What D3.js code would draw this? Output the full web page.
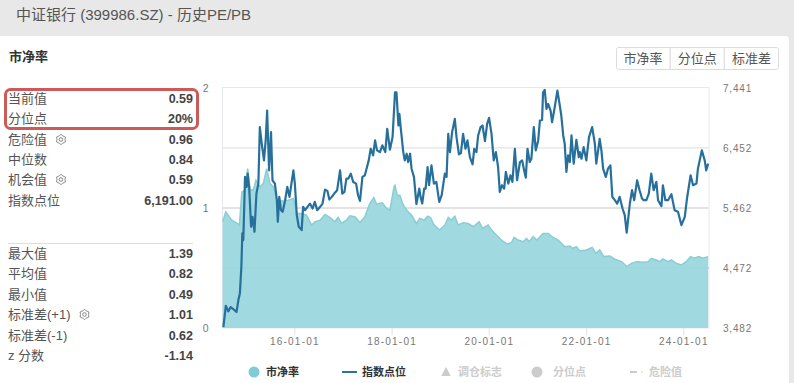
<!DOCTYPE html>
<html><head><meta charset="utf-8">
<script src="https://cdn.jsdelivr.net/npm/d3@7"></script>
<style>
html,body{margin:0;padding:0;background:#e8e8e8}
svg{display:block}
text{font-family:"Liberation Sans","Noto Sans CJK SC",sans-serif}
</style></head><body><svg id="c" width="794" height="383"></svg>
<script>
const title = "中证银行 (399986.SZ) - 历史PE/PB";
const panelTitle = "市净率";
const buttons = ["市净率","分位点","标准差"];
const statsTop = [["当前值","0.59",0],["分位点","20%",0],["危险值","0.96",1],["中位数","0.84",0],["机会值","0.59",1],["指数点位","6,191.00",0]];
const statsBottom = [["最大值","1.39",0],["平均值","0.82",0],["最小值","0.49",0],["标准差(+1)","1.01",1],["标准差(-1)","0.62",0],["z 分数","-1.14",0]];
const xTickYears = [2016,2018,2020,2022,2024];
const xTickLabels = ["16-01-01","18-01-01","20-01-01","22-01-01","24-01-01"];
const leftTicks = [0,1,2];
const rightTicks = [3482,4472,5462,6452,7441];

const indexYears = [2014.54,2014.59,2014.64,2014.69,2014.76,2014.81,2014.85,2014.88,2014.91,2014.93,2014.95,2014.985,2015.02,2015.04,2015.07,2015.11,2015.14,2015.18,2015.22,2015.26,2015.29,2015.33,2015.375,2015.41,2015.44,2015.48,2015.52,2015.55,2015.60,2015.64,2015.66,2015.69,2015.725,2015.76,2015.81,2015.855,2015.90,2015.93,2015.98,2016.01,2016.05,2016.09,2016.15,2016.18,2016.22,2016.27,2016.32,2016.375,2016.42,2016.47,2016.53,2016.58,2016.63,2016.68,2016.72,2016.77,2016.82,2016.88,2016.94,2016.985,2017.03,2017.07,2017.11,2017.16,2017.21,2017.27,2017.31,2017.35,2017.40,2017.45,2017.485,2017.53,2017.57,2017.62,2017.66,2017.70,2017.76,2017.81,2017.87,2017.91,2017.965,2018.02,2018.07,2018.10,2018.14,2018.16,2018.19,2018.24,2018.27,2018.31,2018.34,2018.38,2018.41,2018.46,2018.51,2018.57,2018.595,2018.63,2018.67,2018.70,2018.74,2018.77,2018.82,2018.87,2018.92,2018.98,2019.03,2019.095,2019.13,2019.165,2019.20,2019.245,2019.30,2019.335,2019.385,2019.425,2019.47,2019.52,2019.56,2019.61,2019.665,2019.70,2019.745,2019.78,2019.83,2019.87,2019.92,2019.965,2020.005,2020.055,2020.10,2020.145,2020.19,2020.225,2020.27,2020.315,2020.35,2020.40,2020.445,2020.485,2020.535,2020.58,2020.64,2020.685,2020.725,2020.76,2020.795,2020.84,2020.875,2020.925,2020.965,2021.015,2021.05,2021.095,2021.115,2021.15,2021.185,2021.22,2021.27,2021.30,2021.355,2021.41,2021.46,2021.49,2021.53,2021.56,2021.595,2021.63,2021.665,2021.70,2021.745,2021.80,2021.85,2021.87,2021.905,2021.95,2022.005,2022.06,2022.125,2022.18,2022.21,2022.28,2022.315,2022.35,2022.405,2022.45,2022.50,2022.54,2022.59,2022.64,2022.69,2022.75,2022.795,2022.835,2022.90,2022.945,2022.99,2023.05,2023.10,2023.15,2023.185,2023.24,2023.29,2023.34,2023.39,2023.445,2023.48,2023.55,2023.58,2023.63,2023.685,2023.755,2023.82,2023.89,2023.96,2024.03,2024.075,2024.15,2024.20,2024.27,2024.30,2024.38,2024.44,2024.47,2024.51];
const indexValues = [3498,3849,3756,3827,3783,3745,3947,4057,4495,5043,4933,5974,5809,6028,5809,5152,5316,5070,5700,5864,6795,6521,6247,6576,7069,6083,6713,5919,5864,5590,5234,5645,5426,5399,5590,5809,5645,5809,6083,5864,5344,5152,5097,5481,5426,5481,5535,5453,5563,5426,5481,5535,5765,5744,5601,5645,5700,5755,6083,5700,5727,5946,5946,6028,5891,5864,5672,5579,5974,6001,6110,6247,6439,6330,6576,6412,6384,6494,6384,6768,6423,6631,7370,7370,6822,7014,6768,6384,6247,6357,6220,6357,6110,5974,5525,5782,5645,5535,5782,5782,6138,5837,6165,5864,5891,5563,5672,6028,5974,6685,6384,6713,6932,6631,6346,6368,6685,6439,6576,6302,6182,6439,6384,6658,6795,6822,6565,6850,6948,6685,6247,6384,6138,5727,5837,5782,6056,5864,6001,5891,6439,5919,6220,6247,6083,5963,6439,6220,6275,6795,6412,6576,6905,6915,7370,7408,7096,7178,7069,6877,7124,7397,7151,6987,6658,6521,6056,6330,6220,6658,6193,6587,6302,6384,6275,6466,6247,6631,6795,6521,6193,6603,6412,6110,5974,6110,6165,5645,5590,5535,5645,5453,5344,5054,5535,5755,5590,5919,5755,5618,5590,5590,5700,6028,5755,5891,5590,5492,5837,5590,5590,5689,5426,5399,5180,5316,5618,6001,5837,5864,6110,6412,6247,6083,6193];

const pbYears = [2014.525,2014.59,2014.64,2014.71,2014.81,2014.87,2014.92,2014.985,2015.04,2015.09,2015.16,2015.21,2015.29,2015.36,2015.43,2015.50,2015.57,2015.64,2015.77,2015.875,2015.98,2016.05,2016.15,2016.25,2016.355,2016.42,2016.53,2016.63,2016.73,2016.835,2016.90,2016.97,2017.07,2017.14,2017.245,2017.35,2017.45,2017.55,2017.635,2017.69,2017.81,2017.895,2017.965,2018.05,2018.07,2018.115,2018.17,2018.24,2018.34,2018.41,2018.51,2018.58,2018.67,2018.74,2018.80,2018.875,2018.99,2019.095,2019.165,2019.23,2019.30,2019.37,2019.47,2019.575,2019.68,2019.80,2019.87,2019.985,2020.055,2020.155,2020.26,2020.375,2020.465,2020.52,2020.60,2020.705,2020.775,2020.83,2020.91,2020.99,2021.115,2021.22,2021.32,2021.425,2021.56,2021.665,2021.72,2021.80,2021.87,2022.005,2022.125,2022.20,2022.28,2022.365,2022.49,2022.59,2022.73,2022.84,2022.93,2023.035,2023.17,2023.275,2023.34,2023.445,2023.515,2023.58,2023.685,2023.755,2023.855,2023.96,2024.06,2024.15,2024.23,2024.315,2024.405,2024.51];
const pbValues = [.885,.968,.941,.899,.877,.858,1.134,1.148,1.328,1.148,1.154,1.231,1.176,1.203,1.328,1.203,1.176,1.065,1.059,1.065,1.079,.954,.954,.941,.858,.885,.899,.946,.921,.885,.921,.871,.899,.935,.927,.880,.927,1.037,1.087,1.032,1.043,.996,.982,1.176,1.19,1.107,1.107,1.024,.968,.941,.871,.913,.899,.932,.921,.858,.816,.858,.921,.899,.932,.858,.877,.871,.844,.885,.830,.858,.816,.775,.733,.700,.711,.755,.733,.719,.747,.719,.761,.733,.788,.788,.755,.733,.678,.683,.664,.678,.642,.650,.672,.622,.650,.595,.600,.573,.553,.512,.539,.553,.548,.553,.581,.567,.553,.575,.553,.567,.539,.526,.553,.595,.581,.595,.581,.595];

const legendItems = [
  {label:"市净率",kind:"circle",color:"#7fcbd6",text:"#333",cx:254,tx:266},
  {label:"指数点位",kind:"line",color:"#2f7397",text:"#333",cx:350,tx:362},
  {label:"调仓标志",kind:"tri",color:"#ccc",text:"#ccc",cx:446,tx:458},
  {label:"分位点",kind:"circle",color:"#ccc",text:"#ccc",cx:537,tx:553},
  {label:"危险值",kind:"dash",color:"#ccc",text:"#ccc",cx:636,tx:649}
];

const svg = d3.select("#c");
svg.append("rect").attr("width",794).attr("height",383).attr("fill","#e8e8e8");
svg.append("rect").attr("x",-6).attr("y",36).attr("width",795).attr("height",360).attr("rx",4).attr("fill","#fff");
svg.append("text").attr("x",16).attr("y",20).attr("font-size",15).attr("fill","#555").text(title);
svg.append("text").attr("x",9).attr("y",61).attr("font-size",13).attr("font-weight","bold").attr("fill","#333").text(panelTitle);

const btnX = d3.scaleBand().domain(buttons).range([616,778.5]);
svg.append("rect").attr("x",616.5).attr("y",47.5).attr("width",162).attr("height",22).attr("rx",2).attr("fill","#fff").attr("stroke","#dcdcdc");
buttons.forEach((b,i)=>{
  if(i>0) svg.append("line").attr("x1",btnX(b)).attr("x2",btnX(b)).attr("y1",48).attr("y2",69).attr("stroke","#e2e2e2").attr("stroke-width",1.5);
  svg.append("text").attr("x",btnX(b)+btnX.bandwidth()/2).attr("y",63).attr("text-anchor","middle").attr("font-size",13).attr("fill","#555").text(b);
});

const gearShape = d3.lineRadial().curve(d3.curveCardinalClosed).angle((d,i)=>i*Math.PI/6).radius(d=>d);
const gearRadii = [5,4,5,4,5,4,5,4,5,4,5,4];
function gear(x,y){
  const g = svg.append("g").attr("transform",`translate(${x},${y})`).attr("fill","none").attr("stroke","#777").attr("stroke-width",.9);
  g.append("path").attr("d",gearShape(gearRadii));
  g.append("circle").attr("r",1.8);
}
function row(r,y){
  svg.append("text").attr("x",8).attr("y",y+4.5).attr("font-size",13).attr("fill","#555").text(r[0]);
  svg.append("text").attr("x",193).attr("y",y+4.5).attr("text-anchor","end").attr("font-size",12.5).attr("font-weight","bold").attr("fill","#444").text(r[1]);
  if(r[2]) gear(r[0].length>3?84.5:61,y+.5);
}
const topY=[98,118,139,159,179,200], botY=[253,273,294,314,335,355];
statsTop.forEach((r,i)=>row(r,topY[i]));
statsBottom.forEach((r,i)=>row(r,botY[i]));
svg.append("line").attr("x1",8).attr("x2",193).attr("y1",243.5).attr("y2",243.5).attr("stroke","#ddd");
svg.append("rect").attr("x",5.5).attr("y",89.5).attr("width",192).attr("height",39).attr("rx",5).attr("fill","none").attr("stroke","#cc5a58").attr("stroke-width",3);

const L=222.5,R=709,T=88,B=328;
const x = d3.scaleLinear().domain([2014.522,2024.528]).range([L,R]);
const yL = d3.scaleLinear().domain([0,2]).range([B,T]);
const yR = d3.scaleLinear().domain([3482,7441]).range([B,T]);

const gridG = svg.append("g");
svg.append("rect").attr("x",L).attr("y",T-.5).attr("width",R-L).attr("height",B-T+.5).attr("fill","none").attr("stroke","#e4e8ea");
rightTicks.slice(1,4).forEach((t,i)=>{
  gridG.append("line").attr("x1",L).attr("x2",R).attr("y1",yR(t)).attr("y2",yR(t)).attr("stroke","#e3e3e3").attr("stroke-width",i==1?2:1.3);
});

const pb = pbYears.map((d,i)=>[d,pbValues[i]]);
const idx = indexYears.map((d,i)=>[d,indexValues[i]]);
svg.append("path").datum(pb).attr("fill","#a0d9e0")
  .attr("d",d3.area().x(d=>x(d[0])).y0(B).y1(d=>yL(d[1])));
svg.append("line").attr("x1",L).attr("x2",R).attr("y1",yR(4472)).attr("y2",yR(4472)).attr("stroke","#9cd5dd").attr("stroke-width",1);
svg.append("path").datum(pb).attr("fill","none").attr("stroke","#8bcdd3").attr("stroke-width",1.5)
  .attr("d",d3.line().x(d=>x(d[0])).y(d=>yL(d[1])));
svg.append("path").datum(idx).attr("fill","none").attr("stroke","#27709b").attr("stroke-width",2.2).attr("stroke-linejoin","round")
  .attr("d",d3.line().x(d=>x(d[0])).y(d=>yR(d[1])));

const axB = d3.axisBottom(x).tickValues(xTickYears).tickFormat((d,i)=>xTickLabels[i]).tickSize(7).tickPadding(3);
const gb = svg.append("g").attr("transform",`translate(0,${B})`).call(axB);
gb.select(".domain").remove();
gb.selectAll("line").attr("stroke","#dfe3e6");
gb.selectAll("text").attr("fill","#777").attr("y",9.5).attr("font-family","DejaVu Sans").attr("font-size",10).attr("letter-spacing","1.2px");
const axL = d3.axisLeft(yL).tickValues(leftTicks).tickFormat(d3.format("d")).tickSize(0).tickPadding(14);
const gl = svg.append("g").attr("transform",`translate(${L},0)`).call(axL);
gl.select(".domain").remove();
gl.selectAll("text").attr("fill","#777").attr("font-size",10.5).attr("font-family","DejaVu Sans");
const axR = d3.axisRight(yR).tickValues(rightTicks).tickFormat(d3.format(",")).tickSize(0).tickPadding(14);
const gr = svg.append("g").attr("transform",`translate(${R},0)`).call(axR);
gr.select(".domain").remove();
gr.selectAll("text").attr("fill","#777").attr("font-size",10).attr("letter-spacing",".8px").attr("font-family","DejaVu Sans");

const LY=372;
legendItems.forEach(it=>{
  if(it.kind=="circle") svg.append("circle").attr("cx",it.cx).attr("cy",LY).attr("r",5.5).attr("fill",it.color);
  if(it.kind=="line") svg.append("line").attr("x1",it.cx-8).attr("x2",it.cx+7).attr("y1",LY).attr("y2",LY).attr("stroke",it.color).attr("stroke-width",2);
  if(it.kind=="tri") svg.append("path").attr("transform",`translate(${it.cx},${LY})`).attr("d","M0,-5L4.8,4H-4.8Z").attr("fill",it.color);
  if(it.kind=="dash"){
    svg.append("line").attr("x1",it.cx-6).attr("x2",it.cx+1).attr("y1",LY).attr("y2",LY).attr("stroke",it.color).attr("stroke-width",2);
    svg.append("circle").attr("cx",it.cx+6).attr("cy",LY).attr("r",.8).attr("fill",it.color);
  }
  svg.append("text").attr("x",it.tx).attr("y",LY+4).attr("font-size",11).attr("font-weight","bold").attr("fill",it.text).text(it.label);
});
</script></body></html>
